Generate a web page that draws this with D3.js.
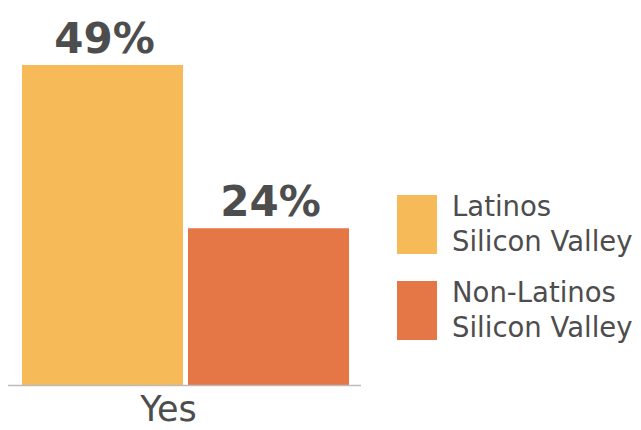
<!DOCTYPE html>
<html><head><meta charset="utf-8">
<script src="https://cdn.jsdelivr.net/npm/d3@7"></script>
<style>body{margin:0;background:#fff}svg{display:block}text{font-family:"DejaVu Sans",sans-serif}</style>
</head><body><svg id="c" width="641" height="430"></svg>
<script>
const categories = ["Yes"];
const seriesNames = ["Latinos\nSilicon Valley", "Non-Latinos\nSilicon Valley"];
const seriesValues = [49, 24];
const valueLabels = ["49%", "24%"];
const colors = ["#F7BA58", "#E57645"];

const svg = d3.select("#c");
const baseY = 385, topY = 65;
const y = d3.scaleLinear().domain([0, 49]).range([baseY, topY]);
const x0 = d3.scaleBand().domain(categories).range([22, 349]).padding(0);
const x1 = d3.scaleBand().domain(d3.range(seriesValues.length)).range([0, x0.bandwidth()]).paddingInner(0.03);

const g = svg.append("g");
categories.forEach(cat => {
  const cg = g.append("g").attr("transform", `translate(${x0(cat)},0)`);
  cg.selectAll("rect").data(seriesValues).join("rect")
    .attr("x", (d,i) => x1(i)).attr("width", x1.bandwidth())
    .attr("y", d => y(d)).attr("height", d => baseY - y(d))
    .attr("fill", (d,i) => colors[i]);
  cg.selectAll("text.v").data(seriesValues).join("text").attr("class","v")
    .attr("x", (d,i) => x1(i) + x1.bandwidth()/2 + 2)
    .attr("y", d => y(d) - 12)
    .attr("text-anchor","middle").attr("font-size", 42).attr("font-weight", 700)
    .attr("fill", "#4D4D4D").text((d,i) => valueLabels[i]);
});

svg.append("line").attr("x1", 8).attr("x2", 361).attr("y1", baseY + 0.5).attr("y2", baseY + 0.5)
  .attr("stroke", "#BBBBBB").attr("stroke-width", 1.5);
svg.selectAll("text.cat").data(categories).join("text").attr("class","cat")
  .attr("x", d => x0(d) + x0.bandwidth()/2 - 17).attr("y", 421)
  .attr("text-anchor","middle").attr("font-size", 35).attr("fill", "#4D4D4D").text(d => d);

const lg = svg.append("g");
seriesNames.forEach((name, i) => {
  const yy = 195 + i * 86;
  lg.append("rect").attr("x", 397).attr("y", yy).attr("width", 40).attr("height", 59).attr("fill", colors[i]);
  name.split("\n").forEach((line, j) => {
    lg.append("text").attr("x", 452).attr("y", yy + 21 + j * 35)
      .attr("font-size", 27.5).attr("fill", "#4D4D4D").text(line);
  });
});
</script></body></html>
